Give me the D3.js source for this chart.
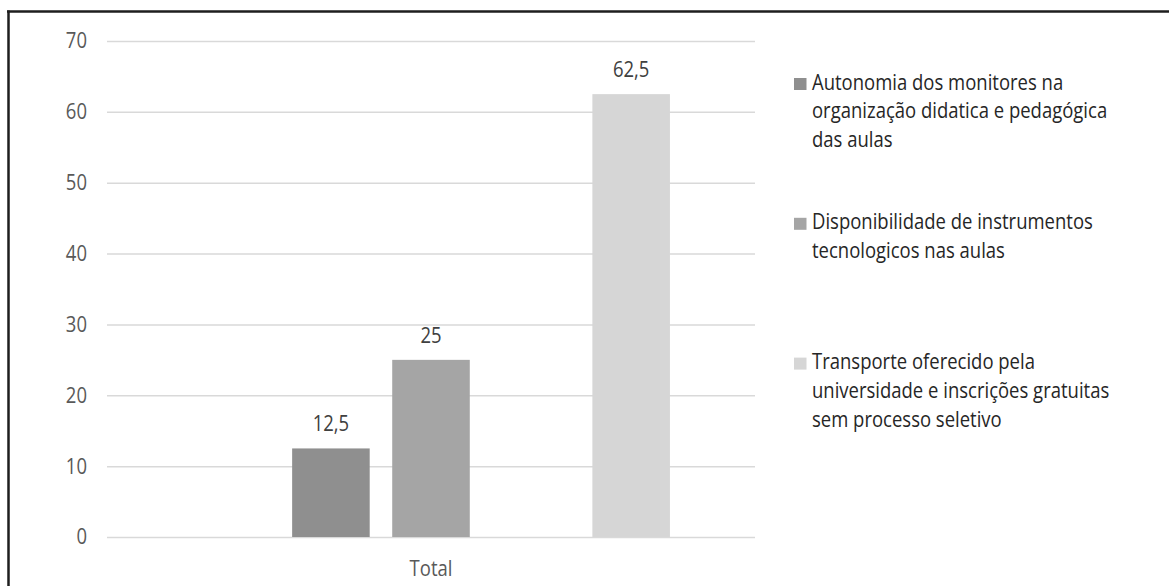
<!DOCTYPE html>
<html>
<head>
<meta charset="utf-8">
<script src="https://cdn.jsdelivr.net/npm/d3@7"></script>
<style>
  html, body { margin: 0; padding: 0; background: #fff; }
  svg { display: block; }
  text { font-family: "Open Sans", "Noto Sans", sans-serif; font-size: 21.5px; }
</style>
</head>
<body>
<svg id="chart" width="1169" height="586"></svg>
<script>
// ---- data ----
const categories = ["Total"];
const seriesNames = [
  "Autonomia dos monitores na organização didatica e pedagógica das aulas",
  "Disponibilidade de instrumentos tecnologicos nas aulas",
  "Transporte oferecido pela universidade e inscrições gratuitas sem processo seletivo"
];
const seriesValues = [12.5, 25, 62.5];
const valueLabels = ["12,5", "25", "62,5"];
const legendLines = [
  ["Autonomia dos monitores na", "organização didatica e pedagógica", "das aulas"],
  ["Disponibilidade de instrumentos", "tecnologicos nas aulas"],
  ["Transporte oferecido pela", "universidade e inscrições gratuitas", "sem processo seletivo"]
];
// slot order inside the category (two empty slots as in the original)
const slotKeys = ["empty1", "s0", "s1", "empty2", "s2"];
const seriesSlots = ["s0", "s1", "s2"];
const yTicks = [0, 10, 20, 30, 40, 50, 60, 70];
const colors = ["#8f8f8f", "#a5a5a5", "#d6d6d6"];

// ---- layout ----
const SX = 0.86; // horizontal condensing to mimic the narrow original font
const svg = d3.select("#chart");
const plot = { left: 107, right: 755, top: 41, bottom: 537 };

const x = d3.scaleBand().domain(categories).range([plot.left, plot.right])
  .paddingInner(0).paddingOuter(0.178);
const xs = d3.scaleBand().domain(slotKeys).range([0, x.bandwidth()])
  .paddingInner(0.225).paddingOuter(0);
const y = d3.scaleLinear().domain([0, 70]).range([plot.bottom, plot.top]);

function condense(sel) {
  sel.each(function () {
    const t = d3.select(this);
    const xv = +t.attr("x") || 0;
    t.attr("x", xv / SX).attr("transform", `scale(${SX},1)`);
    t.selectAll("tspan").each(function () {
      const s = d3.select(this);
      if (s.attr("x") !== null) s.attr("x", +s.attr("x") / SX);
    });
  });
}

// frame
svg.append("line").attr("x1", 8.5).attr("x2", 8.5).attr("y1", 10.5).attr("y2", 586)
  .attr("stroke", "#1e1e1e").attr("stroke-width", 2.5);
svg.append("line").attr("x1", 7).attr("x2", 1169).attr("y1", 11.5).attr("y2", 11.5)
  .attr("stroke", "#1e1e1e").attr("stroke-width", 2.5);

// gridlines + y labels via axis
const yAxis = d3.axisLeft(y).tickValues(yTicks).tickSize(-(plot.right - plot.left)).tickPadding(20)
  .tickFormat(d3.format("d"));
const gy = svg.append("g").attr("transform", `translate(${plot.left},0)`).call(yAxis);
gy.select(".domain").remove();
gy.selectAll(".tick line").attr("stroke", "#d9d9d9").attr("stroke-width", 1.5);
gy.selectAll(".tick text").attr("fill", "#595959")
  .style("font-size", "21.5px").style("font-family", "'Open Sans', sans-serif")
  .call(condense);

// x axis label
const xAxis = d3.axisBottom(x).tickSize(0).tickPadding(24);
const gx = svg.append("g").attr("transform", `translate(0,${plot.bottom})`).call(xAxis);
gx.select(".domain").remove();
gx.selectAll(".tick text").attr("fill", "#595959")
  .style("font-size", "21.5px").style("font-family", "'Open Sans', sans-serif")
  .call(condense);

// bars
const barData = seriesValues.map((v, i) => ({ v, i, slot: seriesSlots[i], label: valueLabels[i] }));
const gBars = svg.append("g");
gBars.selectAll("rect").data(barData).enter().append("rect")
  .attr("x", d => x("Total") + xs(d.slot))
  .attr("width", xs.bandwidth())
  .attr("y", d => y(d.v))
  .attr("height", d => y(0) - y(d.v))
  .attr("fill", d => colors[d.i]);

gBars.selectAll("text").data(barData).enter().append("text")
  .attr("x", d => x("Total") + xs(d.slot) + xs.bandwidth() / 2)
  .attr("y", d => y(d.v) - 17)
  .attr("text-anchor", "middle")
  .attr("fill", "#404040")
  .text(d => d.label)
  .call(condense);

// legend
const legend = svg.append("g");
const legTop = 78, legStep = 139.8, lineH = 29;
seriesNames.forEach((name, i) => {
  const g = legend.append("g").attr("transform", `translate(794,${legTop + i * legStep})`);
  g.append("rect").attr("width", 12.5).attr("height", 12).attr("fill", colors[i]);
  const t = g.append("text").attr("x", 18).attr("y", 11.5).attr("fill", "#262626");
  legendLines[i].forEach((ln, k) => {
    t.append("tspan").attr("x", 18).attr("dy", k === 0 ? 0 : lineH).text(ln);
  });
  t.call(condense);
});
</script>
</body>
</html>
